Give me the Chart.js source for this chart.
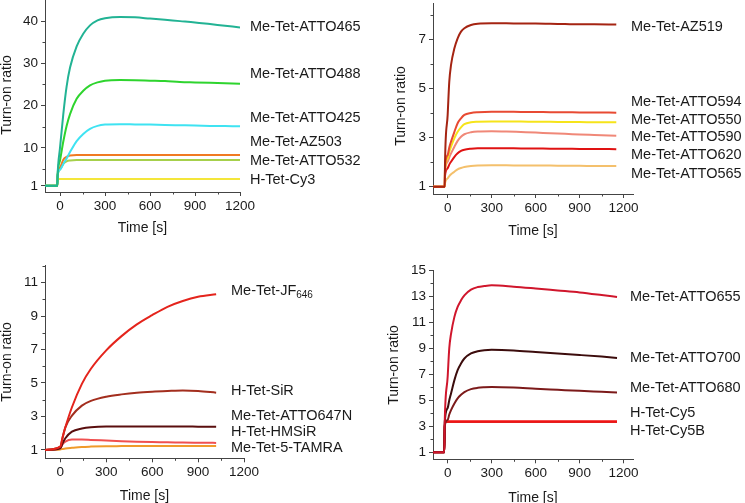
<!DOCTYPE html>
<html>
<head>
<meta charset="utf-8">
<title>Turn-on kinetics</title>
<script src="https://cdn.jsdelivr.net/npm/chart.js@4.4.0/dist/chart.umd.min.js"></script>
<style>
  html, body { margin: 0; padding: 0; background: #fff; }
  #wrap { position: relative; width: 745px; height: 503px; }
  canvas { position: absolute; }
</style>
</head>
<body>
<div id="wrap">
  <canvas id="p1" width="372" height="250" style="left:0;top:0"></canvas>
  <canvas id="p2" width="373" height="250" style="left:372px;top:0"></canvas>
  <canvas id="p3" width="372" height="253" style="left:0;top:250px"></canvas>
  <canvas id="p4" width="373" height="253" style="left:372px;top:250px"></canvas>
</div>
<script>
// ---- shared ticks ----
var xTicks = [0, 300, 600, 900, 1200];
var xMinor = [150, 450, 750, 1050];

// ---- panel 1 (top left) ----
var t1 = [-100, -18, -16, 0, 22, 44, 67, 111, 155, 200, 250, 300, 400, 500, 600, 700, 800, 900, 1000, 1100, 1200];
var atto465 = [1, 1, 3.5, 10.0, 18.0, 24.5, 29.0, 34.0, 37.0, 39.0, 40.2, 40.7, 41.0, 40.9, 40.6, 40.3, 40.0, 39.7, 39.3, 38.9, 38.5];
var atto488 = [1, 1, 3.5, 7.0, 11.5, 15.2, 18.0, 21.6, 23.5, 24.8, 25.5, 25.9, 26.05, 26.0, 25.9, 25.8, 25.6, 25.5, 25.4, 25.3, 25.2];
var atto425 = [1, 1, 3.5, 4.8, 6.2, 7.5, 9.0, 11.6, 13.3, 14.5, 15.2, 15.5, 15.6, 15.55, 15.5, 15.4, 15.35, 15.3, 15.2, 15.15, 15.1];
var az503   = [1, 1, 3.5, 5.3, 7.2, 7.9, 8.2, 8.3, 8.3, 8.3, 8.3, 8.3, 8.3, 8.3, 8.3, 8.3, 8.3, 8.3, 8.3, 8.3, 8.3];
var atto532 = [1, 1, 3.3, 4.9, 6.2, 6.8, 7.0, 7.1, 7.1, 7.1, 7.1, 7.1, 7.1, 7.1, 7.1, 7.1, 7.1, 7.1, 7.1, 7.1, 7.1];
var cy3     = [1, 1, 2.6, 2.6, 2.6, 2.6, 2.6, 2.6, 2.6, 2.6, 2.6, 2.6, 2.6, 2.6, 2.6, 2.6, 2.6, 2.6, 2.6, 2.6, 2.6];
var names1  = ['Me-Tet-ATTO465', 'Me-Tet-ATTO488', 'Me-Tet-ATTO425', 'Me-Tet-AZ503', 'Me-Tet-ATTO532', 'H-Tet-Cy3'];
var labelAt1 = [38.6, 27.4, 17.0, 11.3, 6.9, 2.35];
var yTicks1 = [1, 10, 20, 30, 40];
var yMinor1 = [5, 15, 25, 35];

// ---- panel 2 (top right) ----
var t2 = [-100, -20, -18, 0, 11, 23, 46, 68, 91, 114, 159, 205, 300, 400, 500, 600, 700, 800, 900, 1000, 1150];
var az519   = [1, 1, 2.0, 3.93, 5.29, 5.97, 6.65, 7.06, 7.33, 7.47, 7.6, 7.65, 7.67, 7.67, 7.66, 7.66, 7.65, 7.64, 7.63, 7.63, 7.62];
var atto594 = [1, 1, 1.8, 2.29, 2.6, 2.84, 3.24, 3.59, 3.79, 3.93, 4.01, 4.04, 4.06, 4.06, 4.05, 4.05, 4.04, 4.04, 4.03, 4.03, 4.02];
var atto550 = [1, 1, 1.7, 2.16, 2.42, 2.63, 2.98, 3.24, 3.42, 3.55, 3.63, 3.65, 3.66, 3.66, 3.66, 3.65, 3.65, 3.64, 3.64, 3.63, 3.63];
var atto590 = [1, 1, 1.6, 2.02, 2.2, 2.36, 2.63, 2.87, 3.04, 3.14, 3.22, 3.25, 3.26, 3.25, 3.23, 3.21, 3.18, 3.16, 3.13, 3.11, 3.08];
var atto620 = [1, 1, 1.45, 1.75, 1.9, 2.02, 2.22, 2.36, 2.46, 2.51, 2.55, 2.57, 2.57, 2.57, 2.56, 2.56, 2.55, 2.55, 2.54, 2.54, 2.53];
var atto565 = [1, 1, 1.15, 1.34, 1.43, 1.51, 1.61, 1.71, 1.76, 1.8, 1.84, 1.86, 1.87, 1.87, 1.86, 1.86, 1.86, 1.85, 1.85, 1.84, 1.84];
var names2  = ['Me-Tet-AZ519', 'Me-Tet-ATTO594', 'Me-Tet-ATTO550', 'Me-Tet-ATTO590', 'Me-Tet-ATTO620', 'Me-Tet-ATTO565'];
var labelAt2 = [7.5, 4.47, 3.72, 3.02, 2.28, 1.52];
var yTicks2 = [1, 3, 5, 7];
var yMinor2 = [2, 4, 6, 8];

// ---- panel 3 (bottom left) ----
var t3 = [-100, 0, 15, 33, 76, 141, 200, 300, 400, 500, 600, 700, 800, 900, 1018];
var jf646    = [1, 1.2, 1.75, 2.35, 3.55, 4.95, 5.85, 6.95, 7.8, 8.5, 9.05, 9.55, 9.9, 10.15, 10.3];
var sir      = [1, 1.2, 1.75, 2.35, 3.05, 3.65, 3.93, 4.18, 4.32, 4.42, 4.48, 4.52, 4.55, 4.52, 4.42];
var atto647n = [1, 1.1, 1.4, 1.7, 2.09, 2.28, 2.36, 2.4, 2.4, 2.4, 2.4, 2.4, 2.4, 2.39, 2.38];
var hmsir    = [1, 1.1, 1.35, 1.5, 1.62, 1.62, 1.6, 1.56, 1.52, 1.49, 1.47, 1.46, 1.44, 1.43, 1.42];
var tamra    = [1, 1.03, 1.06, 1.09, 1.13, 1.18, 1.2, 1.22, 1.23, 1.24, 1.24, 1.24, 1.24, 1.24, 1.24];
var names3   = ['Me-Tet-JF_646', 'H-Tet-SiR', 'Me-Tet-ATTO647N', 'H-Tet-HMSiR', 'Me-Tet-5-TAMRA'];
var labelAt3 = [10.49, 4.52, 3.05, 2.09, 1.1];
var yTicks3 = [1, 3, 5, 7, 9, 11];
var yMinor3 = [2, 4, 6, 8, 10, 12];

// ---- panel 4 (bottom right) ----
var t4 = [-100, -23, -20, 0, 11, 23, 46, 68, 91, 114, 159, 205, 250, 300, 450, 600, 750, 900, 1050, 1155];
var atto655 = [1, 1, 3.3, 6.8, 9.0, 10.1, 11.4, 12.16, 12.67, 13.05, 13.49, 13.69, 13.77, 13.82, 13.72, 13.58, 13.43, 13.28, 13.08, 12.93];
var atto700 = [1, 1, 3.3, 4.4, 5.0, 5.52, 6.54, 7.31, 7.82, 8.2, 8.59, 8.76, 8.84, 8.87, 8.82, 8.7, 8.58, 8.47, 8.35, 8.25];
var atto680 = [1, 1, 3.0, 3.48, 3.9, 4.24, 4.75, 5.14, 5.41, 5.62, 5.85, 5.95, 5.99, 6.01, 5.97, 5.88, 5.8, 5.72, 5.65, 5.6];
var cy5     = [1, 1, 3.38, 3.38, 3.38, 3.38, 3.38, 3.38, 3.38, 3.38, 3.38, 3.38, 3.38, 3.38, 3.38, 3.38, 3.38, 3.38, 3.38, 3.38];
var cy5b    = [1, 1, 3.33, 3.33, 3.33, 3.33, 3.33, 3.33, 3.33, 3.33, 3.33, 3.33, 3.33, 3.33, 3.33, 3.33, 3.33, 3.33, 3.33, 3.33];
var names4  = ['Me-Tet-ATTO655', 'Me-Tet-ATTO700', 'Me-Tet-ATTO680', 'H-Tet-Cy5', 'H-Tet-Cy5B'];
var labelAt4 = [12.92, 8.25, 5.9, 4.03, 2.63];
var yTicks4 = [1, 3, 5, 7, 9, 11, 13, 15];
var yMinor4 = [2, 4, 6, 8, 10, 12, 14];

var axisColor = '#444';
var textColor = '#1a1a1a';
var fontFam = '"Liberation Sans", Arial, Helvetica, sans-serif';
Chart.defaults.font.family = fontFam;

function pts(times, vals) {
  return times.map(function (t, i) { return { x: t, y: vals[i] }; });
}

// minor ticks, y title and curve names on the right
var extras = {
  id: 'extras',
  afterDraw: function (chart, args, o) {
    var ctx = chart.ctx, xs = chart.scales.x, ys = chart.scales.y, a = chart.chartArea;
    ctx.save();
    ctx.strokeStyle = axisColor;
    ctx.lineWidth = 1;
    ctx.beginPath();
    o.minorX.forEach(function (v) {
      var px = Math.round(xs.getPixelForValue(v)) + 0.5;
      ctx.moveTo(px, a.bottom);
      ctx.lineTo(px, a.bottom + 2.5);
    });
    o.minorY.forEach(function (v) {
      var py = Math.round(ys.getPixelForValue(v)) + 0.5;
      ctx.moveTo(a.left, py);
      ctx.lineTo(a.left - 2.5, py);
    });
    ctx.stroke();

    ctx.fillStyle = textColor;
    ctx.textBaseline = 'middle';
    ctx.textAlign = 'center';
    ctx.font = '14px ' + fontFam;
    ctx.save();
    ctx.translate(o.yTitle[0], o.yTitle[1]);
    ctx.rotate(-Math.PI / 2);
    ctx.fillText('Turn-on ratio', 0, 0);
    ctx.restore();

    ctx.textAlign = 'left';
    o.names.forEach(function (name, i) {
      var y = ys.getPixelForValue(o.at[i]);
      var x = a.right + o.gap;
      var parts = name.split('_');
      ctx.font = '14.5px ' + fontFam;
      ctx.fillText(parts[0], x, y);
      if (parts[1]) {
        var w = ctx.measureText(parts[0]).width;
        ctx.font = '10px ' + fontFam;
        ctx.fillText(parts[1], x + w, y + 4);
      }
    });
    ctx.restore();
  }
};

function makeChart(id, p) {
  var datasets = p.series.map(function (s, i) {
    return {
      data: pts(p.times, s),
      borderColor: p.colors[i],
      borderWidth: 2,
      pointRadius: 0,
      fill: false,
      cubicInterpolationMode: 'monotone'
    };
  });
  return new Chart(document.getElementById(id), {
    type: 'line',
    data: { datasets: datasets },
    options: {
      responsive: false,
      animation: false,
      devicePixelRatio: 1,
      layout: { padding: { left: 0, top: p.top, right: p.right, bottom: 0 } },
      plugins: {
        legend: { display: false },
        tooltip: { enabled: false },
        extras: { minorX: xMinor, minorY: p.yMinor, names: p.names, at: p.labelAt, gap: p.gap, yTitle: p.yTitle }
      },
      scales: {
        x: {
          type: 'linear',
          min: -100,
          max: p.xMax,
          afterBuildTicks: function (s) { s.ticks = xTicks.map(function (v) { return { value: v }; }); },
          afterFit: function (s) { s.height = p.xH; s.paddingLeft = 0; s.paddingRight = 0; },
          ticks: { font: { size: 13.5 }, color: textColor, padding: 2, maxRotation: 0, autoSkip: false,
                   callback: function (v) { return String(v); } },
          grid: { drawOnChartArea: false, tickLength: 4, color: axisColor },
          border: { color: axisColor, width: 1 },
          title: { display: true, text: 'Time [s]', font: { size: 14 }, color: textColor, padding: { top: 0, bottom: p.xTitlePad } }
        },
        y: {
          type: 'linear',
          min: p.yMin,
          max: p.yMax,
          afterBuildTicks: function (s) { s.ticks = p.yTicks.map(function (v) { return { value: v }; }); },
          afterFit: function (s) { s.width = p.yW; s.paddingTop = 0; s.paddingBottom = 0; },
          ticks: { font: { size: 13.5 }, color: textColor, padding: 3,
                   callback: function (v) { return String(v); } },
          grid: { drawOnChartArea: false, tickLength: 4, color: axisColor },
          border: { color: axisColor, width: 1 }
        }
      }
    },
    plugins: [extras]
  });
}

makeChart('p1', {
  times: t1,
  series: [atto465, atto488, atto425, az503, atto532, cy3],
  colors: ['#22b394', '#2ed42e', '#3fe3f2', '#f07a22', '#a6d04c', '#f4e63a'],
  names: names1, labelAt: labelAt1, yTicks: yTicks1, yMinor: yMinor1,
  yMin: -0.45, yMax: 45, xMax: 1200,
  top: 0, right: 132, xH: 58, yW: 45, xTitlePad: 13, gap: 10, yTitle: [7, 95]
});

makeChart('p2', {
  times: t2,
  series: [az519, atto594, atto550, atto590, atto620, atto565],
  colors: ['#a52412', '#e84a32', '#f6e41a', '#f08878', '#e01212', '#f4c06c'],
  names: names2, labelAt: labelAt2, yTicks: yTicks2, yMinor: yMinor2,
  yMin: 0.7, yMax: 8.5, xMax: 1264,
  top: 3, right: 112, xH: 56, yW: 61, xTitlePad: 10.6, gap: -2, yTitle: [29, 106]
});

makeChart('p3', {
  times: t3,
  series: [jf646, sir, atto647n, hmsir, tamra],
  colors: ['#e4241c', '#a32e1e', '#5a0e0e', '#f05050', '#f09a2a'],
  names: names3, labelAt: labelAt3, yTicks: yTicks3, yMinor: yMinor3,
  yMin: 0.5, yMax: 12.05, xMax: 1200,
  top: 15, right: 128, xH: 44.7, yW: 45, xTitlePad: -1.4, gap: -13, yTitle: [7, 112]
});

makeChart('p4', {
  times: t4,
  series: [atto655, atto700, atto680, cy5, cy5b],
  colors: ['#d0162c', '#3c0c0c', '#7c1a1a', '#f01414', '#e22222'],
  names: names4, labelAt: labelAt4, yTicks: yTicks4, yMinor: yMinor4,
  yMin: 0.46, yMax: 15, xMax: 1264,
  top: 20, right: 112, xH: 43.7, yW: 61, xTitlePad: -3.1, gap: -3, yTitle: [21.7, 115]
});
</script>
</body>
</html>
